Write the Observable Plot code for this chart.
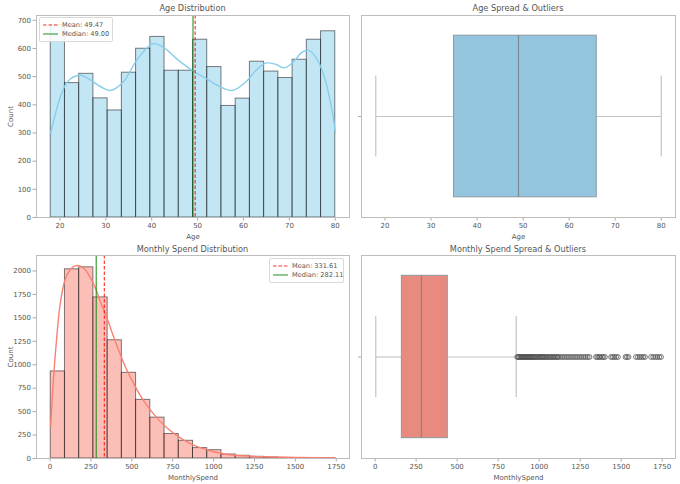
<!DOCTYPE html>
<html>
<head>
<meta charset="utf-8">
<script src="https://cdn.jsdelivr.net/npm/d3@7"></script>
<script src="https://cdn.jsdelivr.net/npm/@observablehq/plot@0.6"></script>
<style>
  body { margin: 0; background: #fff; font-family: "DejaVu Sans", sans-serif; }
  #fig { position: relative; width: 680px; height: 484px; overflow: hidden; background: #fff; }
  .panel { position: absolute; }
  .title { position: absolute; font-size: 8.2px; font-weight: normal; color: #555; white-space: nowrap; line-height: 1; transform: translateX(-50%); }
  .legend { position: absolute; box-sizing: border-box; border: 1px solid #d9d9d9; border-radius: 2px;
            background: rgba(255,255,255,0.85); font-size: 6.6px; color: #555; padding: 2px 3px; }
  .legend .row { display: flex; align-items: center; height: 9.5px; white-space: nowrap; }
  .legend svg { margin-right: 4px; flex-shrink: 0; }
</style>
</head>
<body>
<div id="fig"></div>
<script>
// ---- Age ----
const ageEdges = [18, 21.1, 24.2, 27.3, 30.4, 33.5, 36.6, 39.7, 42.8, 45.9, 49,
                  52.1, 55.2, 58.3, 61.4, 64.5, 67.6, 70.7, 73.8, 76.9, 80];
const ageCounts = [683, 477, 510, 423, 380, 514, 599, 641, 521, 521,
                   631, 534, 396, 422, 553, 518, 495, 560, 631, 661];
const ageKdeX = [18, 21.6, 24.5, 28.8, 31, 33.8, 36.7, 39.2, 40.3, 42.5, 45.4, 49, 51.9, 54.8,
                 57.6, 60.5, 62.7, 64.8, 67, 68.8, 70.6, 72.8, 74.2, 75.7, 77.5, 79.3, 80];
const ageKdeY = [300, 481, 505, 465, 451, 481, 558, 605, 617, 605, 564, 520, 493, 465,
                 451, 481, 522, 548, 544, 531, 548, 587, 593, 570, 505, 380, 303];
const ageMean = 49.47;
const ageMedian = 49.00;
// whisker low, Q1, median, Q3, whisker high
const ageBoxStats = [18, 35, 49, 66, 80];
const ageTicks = [20, 30, 40, 50, 60, 70, 80];
const ageCountTicks = [0, 100, 200, 300, 400, 500, 600, 700];

// ---- Monthly spend ----
const spendEdges = [4, 91, 178, 265, 352, 439, 526, 613, 700, 787, 874,
                    961, 1048, 1135, 1222, 1309, 1396, 1483, 1570, 1657, 1744];
const spendCounts = [929, 2018, 2039, 1718, 1261, 914, 625, 436, 261, 189,
                     111, 89, 43, 29, 18, 11, 6, 4, 2, 3];
const spendKdeX = [4, 20, 41, 61, 91, 122, 152, 183, 213, 243, 274, 304, 345, 385, 426,
                   466, 507, 548, 608, 669, 730, 791, 852, 913, 994, 1075, 1176, 1318, 1521, 1744];
const spendKdeY = [350, 832, 1296, 1636, 1904, 2011, 2054, 2054, 2018, 1939, 1832, 1689, 1511, 1314, 1125,
                   957, 814, 682, 529, 404, 304, 225, 164, 118, 75, 46, 29, 18, 11, 7];
const spendMean = 331.61;
const spendMedian = 282.11;
const spendBoxStats = [4, 163, 282, 443, 860];
const spendOutliers = [
  866, 872, 878, 884, 890, 896, 902, 908, 914, 920, 926, 932, 938, 944, 950, 956, 962, 968,
  975, 982, 989, 996, 1003, 1010, 1017, 1024, 1031, 1038, 1046, 1054, 1062, 1070, 1078, 1086,
  1094, 1102, 1110, 1116,
  1128, 1140, 1152, 1164, 1176, 1188, 1200, 1212, 1224, 1236, 1248, 1260, 1272, 1284, 1296, 1307,
  1346, 1355, 1364, 1372, 1383, 1392, 1401,
  1438, 1447, 1458, 1469, 1480,
  1526, 1535, 1545,
  1590, 1602, 1613, 1624, 1635, 1645,
  1682, 1695, 1708, 1720, 1732, 1743
];
const spendTicks = [0, 250, 500, 750, 1000, 1250, 1500, 1750];
const spendCountTicks = [0, 250, 500, 750, 1000, 1250, 1500, 1750, 2000];

const fig = document.getElementById("fig");
const baseStyle = {fontFamily: "DejaVu Sans", fontSize: "7px", color: "#555", background: "transparent", overflow: "visible"};
const frameColor = "#bdbdbd";
const tickColor = "#aaa";
const plain = d => String(d);

function place(el, left, top) {
  el.classList.add("panel");
  el.style.left = left + "px";
  el.style.top = top + "px";
  fig.appendChild(el);
}

function addTitle(text, cx, top) {
  const t = document.createElement("div");
  t.className = "title";
  t.textContent = text;
  t.style.left = cx + "px";
  t.style.top = top + "px";
  fig.appendChild(t);
}

function addLegend(left, top, width, meanText, medianText) {
  const lg = document.createElement("div");
  lg.className = "legend";
  lg.style.left = left + "px";
  lg.style.top = top + "px";
  lg.style.width = width + "px";
  lg.innerHTML =
    `<div class="row"><svg width="15" height="4"><line x1="0" x2="15" y1="2" y2="2" stroke="red" stroke-opacity="0.8" stroke-width="1.1" stroke-dasharray="3.5,2"/></svg>${meanText}</div>` +
    `<div class="row"><svg width="15" height="4"><line x1="0" x2="15" y1="2" y2="2" stroke="green" stroke-opacity="0.8" stroke-width="1.1"/></svg>${medianText}</div>`;
  fig.appendChild(lg);
}

function histPanel({edges, counts, kdeX, kdeY, mean, median, fill, line, xDomain, yDomain,
                    xTicks, yTicks, xLabel, width, height, margins}) {
  const bins = counts.map((c, i) => ({x1: edges[i], x2: edges[i + 1], c}));
  const kde = kdeX.map((x, i) => ({x, y: kdeY[i]}));
  return Plot.plot({
    width, height, ...margins,
    style: baseStyle,
    x: {domain: xDomain},
    y: {domain: yDomain},
    marks: [
      Plot.rectY(bins, {x1: "x1", x2: "x2", y: "c", fill, fillOpacity: 0.5,
                        stroke: "#000", strokeOpacity: 0.5, strokeWidth: 1, insetLeft: 0, insetRight: 0}),
      Plot.line(kde, {x: "x", y: "y", stroke: line, strokeWidth: 1.4, curve: "catmull-rom"}),
      Plot.ruleX([median], {stroke: "green", strokeOpacity: 0.85, strokeWidth: 1.1}),
      Plot.ruleX([mean], {stroke: "red", strokeOpacity: 0.85, strokeWidth: 1.1, strokeDasharray: "3.5,2"}),
      Plot.axisX({ticks: xTicks, tickFormat: plain, tickSize: 3.5, tickPadding: 2, stroke: tickColor, fill: "#555",
                  label: xLabel, labelAnchor: "center", labelArrow: "none", labelOffset: 21}),
      Plot.axisY({ticks: yTicks, tickFormat: plain, tickSize: 3.5, tickPadding: 2, stroke: tickColor, fill: "#555",
                  label: "Count", labelAnchor: "center", labelArrow: "none", labelOffset: 28}),
      Plot.frame({stroke: frameColor})
    ]
  });
}

function boxPanel({stats, outliers, fill, xDomain, xTicks, xLabel, width, height, margins}) {
  const [lo, q1, med, q3, hi] = stats;
  const box = [{lo, q1, med, q3, hi}];
  const whisker = "#c4c4c4";
  return Plot.plot({
    width, height, ...margins,
    style: baseStyle,
    x: {domain: xDomain},
    y: {domain: [-0.5, 0.5]},
    marks: [
      Plot.ruleY(box, {x1: "lo", x2: "q1", y: 0, stroke: whisker, strokeWidth: 1.2}),
      Plot.ruleY(box, {x1: "q3", x2: "hi", y: 0, stroke: whisker, strokeWidth: 1.2}),
      Plot.ruleX(box, {x: "lo", y1: -0.2, y2: 0.2, stroke: whisker, strokeWidth: 1.2}),
      Plot.ruleX(box, {x: "hi", y1: -0.2, y2: 0.2, stroke: whisker, strokeWidth: 1.2}),
      Plot.rect(box, {x1: "q1", x2: "q3", y1: -0.4, y2: 0.4, fill, stroke: "#8a9aa2", strokeWidth: 1}),
      Plot.ruleX(box, {x: "med", y1: -0.4, y2: 0.4, stroke: "#7b8a91", strokeWidth: 1.2}),
      Plot.dot(outliers, {x: d => d, y: 0, r: 2.4, fill: "none", stroke: "#444", strokeWidth: 0.7}),
      Plot.axisX({ticks: xTicks, tickFormat: plain, tickSize: 3.5, tickPadding: 2, stroke: tickColor, fill: "#555",
                  label: xLabel, labelAnchor: "center", labelArrow: "none", labelOffset: 21}),
      Plot.axisY({ticks: [0], tickFormat: () => "", tickSize: 3, stroke: tickColor, label: null}),
      Plot.frame({stroke: frameColor})
    ]
  });
}

const topM = {marginLeft: 36, marginRight: 1, marginTop: 15, marginBottom: 23};
const topRM = {marginLeft: 20, marginRight: 6, marginTop: 15, marginBottom: 23};
const botM = {marginLeft: 36, marginRight: 1, marginTop: 15, marginBottom: 26};
const botRM = {marginLeft: 20, marginRight: 6, marginTop: 15, marginBottom: 26};

place(histPanel({
  edges: ageEdges, counts: ageCounts, kdeX: ageKdeX, kdeY: ageKdeY, mean: ageMean, median: ageMedian,
  fill: "#87ceeb", line: "#87ceeb", xDomain: [14.9, 83.1], yDomain: [0, 717],
  xTicks: ageTicks, yTicks: ageCountTicks, xLabel: "Age", width: 350, height: 240, margins: topM
}), 0, 0);

place(boxPanel({
  stats: ageBoxStats, outliers: [], fill: "#93c6de", xDomain: [14.9, 83.1],
  xTicks: ageTicks, xLabel: "Age", width: 340, height: 240, margins: topRM
}), 341, 0);

place(histPanel({
  edges: spendEdges, counts: spendCounts, kdeX: spendKdeX, kdeY: spendKdeY, mean: spendMean, median: spendMedian,
  fill: "#fa8072", line: "#fa8072", xDomain: [-83, 1831], yDomain: [0, 2165],
  xTicks: spendTicks, yTicks: spendCountTicks, xLabel: "MonthlySpend", width: 350, height: 244, margins: botM
}), 0, 240);

place(boxPanel({
  stats: spendBoxStats, outliers: spendOutliers, fill: "#e88b7e", xDomain: [-83, 1831],
  xTicks: spendTicks, xLabel: "MonthlySpend", width: 340, height: 244, margins: botRM
}), 341, 240);

addTitle("Age Distribution", 192.5, 4);
addTitle("Age Spread & Outliers", 518, 4);
addTitle("Monthly Spend Distribution", 192.5, 245);
addTitle("Monthly Spend Spread & Outliers", 518, 245);

addLegend(39, 17, 74, `Mean: ${ageMean.toFixed(2)}`, `Median: ${ageMedian.toFixed(2)}`);
addLegend(269, 258, 75, `Mean: ${spendMean.toFixed(2)}`, `Median: ${spendMedian.toFixed(2)}`);
</script>
</body>
</html>
